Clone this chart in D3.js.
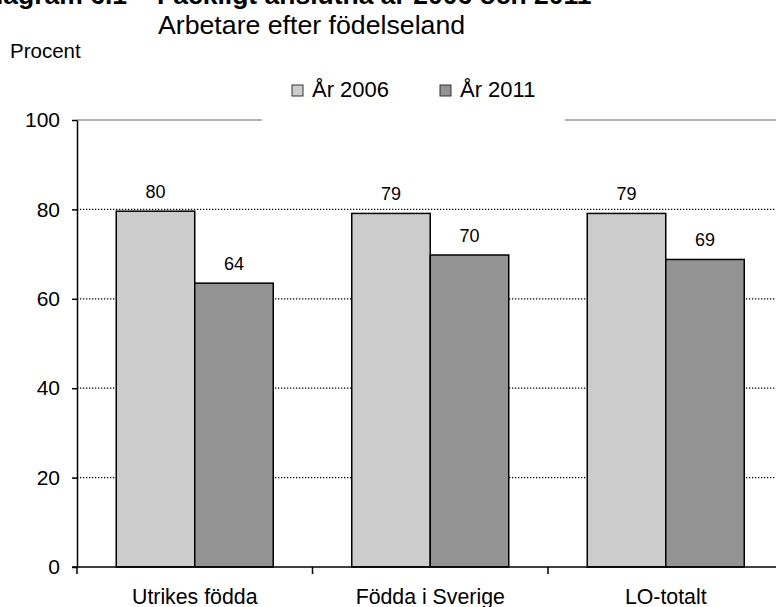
<!DOCTYPE html>
<html>
<head>
<meta charset="utf-8">
<script src="https://cdn.jsdelivr.net/npm/d3@7"></script>
<style>
body { margin: 0; background: #fff; }
text { font-family: "Liberation Sans", Arial, sans-serif; fill: #000; }
</style>
</head>
<body>
<div id="chart"></div>
<script>
// data
var categories = ["Utrikes födda", "Födda i Sverige", "LO-totalt"];
var series_names = ["År 2006", "År 2011"];
var values_2006 = [79.6, 79.1, 79.1];
var values_2011 = [63.5, 69.8, 68.8];
var labels_2006 = ["80", "79", "79"];
var labels_2011 = ["64", "70", "69"];
var y_ticks = [0, 20, 40, 60, 80, 100];
var grid_ticks = [20, 40, 60, 80];

var chart_width = 776;
var chart_height = 607;
var colors = ["#cccccc", "#939393"];

var svg = d3.select("#chart")
            .append("svg")
            .attr("width", chart_width)
            .attr("height", chart_height);

var x = d3.scaleBand()
          .domain(categories)
          .range([77, 783.5])
          .padding(0);

var bw = x.bandwidth();

var x1 = d3.scaleBand()
           .domain([0, 1])
           .range([bw / 6, bw * 5 / 6])
           .padding(0);

var y = d3.scaleLinear()
          .domain([0, 100])
          .range([567, 120]);

// titles (the first line is cut by the top edge in the original)
svg.append("text")
    .attr("x", 127).attr("y", 4)
    .attr("text-anchor", "end")
    .style("font-size", "26.5px").style("font-weight", "bold")
    .text("Diagram 6.1");

svg.append("text")
    .attr("x", 157).attr("y", 4)
    .style("font-size", "26.5px").style("font-weight", "bold")
    .text("Fackligt anslutna år 2006 och 2011");

svg.append("text")
    .attr("x", 158).attr("y", 34)
    .style("font-size", "26.7px")
    .text("Arbetare efter födelseland");

svg.append("text")
    .attr("x", 10).attr("y", 58)
    .style("font-size", "20.5px")
    .text("Procent");

// gridlines
svg.selectAll("line.grid")
    .data(grid_ticks)
    .enter()
    .append("line")
    .attr("class", "grid")
    .attr("x1", 77).attr("x2", chart_width)
    .attr("y1", function(d){ return y(d); })
    .attr("y2", function(d){ return y(d); })
    .attr("stroke", "#000")
    .attr("stroke-width", 1.3)
    .attr("stroke-dasharray", "1.3,1.7");

svg.append("line")
    .attr("x1", 77).attr("x2", chart_width)
    .attr("y1", y(100)).attr("y2", y(100))
    .attr("stroke", "#999")
    .attr("stroke-width", 1.5);

// bars
var groups = svg.selectAll("g.cat")
    .data(categories)
    .enter()
    .append("g")
    .attr("class", "cat")
    .attr("transform", function(d){ return "translate(" + x(d) + ",0)"; });

groups.each(function(d, i){
    var g = d3.select(this);
    var vals = [values_2006[i], values_2011[i]];
    var labs = [labels_2006[i], labels_2011[i]];

    g.selectAll("rect")
        .data(vals)
        .enter()
        .append("rect")
        .attr("x", function(v, j){ return x1(j); })
        .attr("y", function(v){ return y(v); })
        .attr("width", x1.bandwidth())
        .attr("height", function(v){ return y(0) - y(v); })
        .attr("fill", function(v, j){ return colors[j]; })
        .attr("stroke", "#000")
        .attr("stroke-width", 1.5);

    g.selectAll("text.val")
        .data(vals)
        .enter()
        .append("text")
        .attr("class", "val")
        .attr("x", function(v, j){ return x1(j) + x1.bandwidth() / 2; })
        .attr("y", function(v){ return y(v) - 13; })
        .attr("text-anchor", "middle")
        .style("font-size", "18px")
        .text(function(v, j){ return labs[j]; });
});

// y axis
var y_axis = d3.axisLeft(y)
               .tickValues(y_ticks)
               .tickSize(5)
               .tickSizeOuter(0)
               .tickPadding(12);

var ya = svg.append("g")
    .attr("transform", "translate(77,0)")
    .call(y_axis);

ya.select(".domain").attr("stroke", "#000").attr("stroke-width", 1.5);
ya.selectAll(".tick line").attr("stroke", "#000").attr("stroke-width", 1.5);
ya.selectAll(".tick text")
    .style("font-size", "21px")
    .style("font-family", "'Liberation Sans', Arial, sans-serif");

// extend axis below baseline
svg.append("line")
    .attr("x1", 77).attr("x2", 77)
    .attr("y1", y(0)).attr("y2", y(0) + 7)
    .attr("stroke", "#000").attr("stroke-width", 1.5);

// x axis
svg.append("line")
    .attr("x1", 72).attr("x2", chart_width)
    .attr("y1", y(0)).attr("y2", y(0))
    .attr("stroke", "#000").attr("stroke-width", 1.5);

svg.selectAll("line.xtick")
    .data(categories.slice(1))
    .enter()
    .append("line")
    .attr("class", "xtick")
    .attr("x1", function(d){ return x(d); })
    .attr("x2", function(d){ return x(d); })
    .attr("y1", y(0)).attr("y2", y(0) + 7)
    .attr("stroke", "#000").attr("stroke-width", 1.5);

svg.selectAll("text.cat")
    .data(categories)
    .enter()
    .append("text")
    .attr("class", "cat")
    .attr("x", function(d){ return x(d) + bw / 2; })
    .attr("y", 604)
    .attr("text-anchor", "middle")
    .style("font-size", "21.3px")
    .text(function(d){ return d; });

// legend
var legend = svg.append("g");

legend.append("rect")
    .attr("x", 262).attr("y", 68)
    .attr("width", 303).attr("height", 60)
    .attr("fill", "#fff");

var leg_x = [292, 440];

legend.selectAll("rect.key")
    .data(series_names)
    .enter()
    .append("rect")
    .attr("class", "key")
    .attr("x", function(d, i){ return leg_x[i]; })
    .attr("y", 85)
    .attr("width", 11).attr("height", 11)
    .attr("fill", function(d, i){ return colors[i]; })
    .attr("stroke", "#333")
    .attr("stroke-width", 1);

legend.selectAll("text.key")
    .data(series_names)
    .enter()
    .append("text")
    .attr("class", "key")
    .attr("x", function(d, i){ return leg_x[i] + 20; })
    .attr("y", 97)
    .style("font-size", "22px")
    .text(function(d){ return d; });
</script>
</body>
</html>
